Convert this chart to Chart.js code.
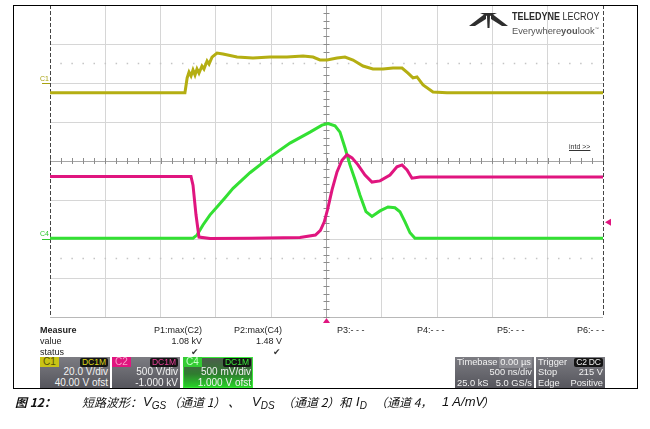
<!DOCTYPE html>
<html>
<head>
<meta charset="utf-8">
<script src="https://cdn.jsdelivr.net/npm/chart.js@4.4.1/dist/chart.umd.min.js"></script>
<style>
body { margin: 0; background: #fff; }
#wrap { position: relative; width: 650px; height: 429px; font-family: "Liberation Sans", Arial, sans-serif; }
#scope { position: absolute; left: 0; top: 0; }
.t { position: absolute; font-size: 9px; line-height: 11px; color: #222; white-space: nowrap; }
.r { text-align: right; }
.chk { font-family: "DejaVu Sans", sans-serif; font-size: 9px; color: #333; }
.box { position: absolute; top: 357px; height: 31px; overflow: hidden; background: linear-gradient(#7c7c82, #55555c); color: #f2f2f2; font-size: 10px; line-height: 10.5px; white-space: nowrap; }
.box.sm { font-size: 9.3px; }
.lab { position: absolute; left: 0; top: 0; padding: 0 3px; height: 10px; line-height: 10px; }
.tag { position: absolute; top: 1px; background: #141414; border-radius: 2px; padding: 0 2px; font-size: 8.5px; line-height: 8.5px; }
.rt { position: absolute; right: 2px; }
.lt { position: absolute; left: 2px; }
.r1 { top: 0; } .r2 { top: 10px; } .r3 { top: 20.5px; }
#cap { position: absolute; left: 0; top: 394px; width: 650px; height: 20px; color: #111; font-style: italic; white-space: nowrap; }
#cap span { position: absolute; top: 0; line-height: 16px; }
#cap .z { font-family: "Noto Sans CJK SC", sans-serif; font-size: 12px; }
#cap .v { font-family: "Liberation Sans", Arial, sans-serif; font-size: 13px; }
#cap sub { font-size: 10px; vertical-align: -3px; line-height: 0; }
#logo1 { position: absolute; left: 512px; top: 11px; font-size: 10px; color: #2a2a2a; transform: scaleX(0.9); transform-origin: left center; }
#logo2 { position: absolute; left: 512px; top: 23px; font-size: 9.3px; color: #555; }
</style>
</head>
<body>
<div id="wrap">
<canvas id="scope" width="650" height="429"></canvas>

<div id="logo1" class="t"><b>TELEDYNE</b> LECROY</div>
<div id="logo2" class="t">Everywhere<b>you</b>look<sup style="font-size:4px">™</sup></div>
<div class="t" style="left:569px;top:141px;font-size:7px;text-decoration:underline;color:#333">intd &gt;&gt;</div>

<div class="t" style="left:40px;top:325px;font-weight:bold">Measure</div>
<div class="t" style="left:40px;top:336px">value</div>
<div class="t" style="left:40px;top:347px">status</div>
<div class="t r" style="left:132px;width:70px;top:325px">P1:max(C2)</div>
<div class="t r" style="left:132px;width:70px;top:336px">1.08 kV</div>
<div class="t chk" style="left:191px;top:347px">✔</div>
<div class="t r" style="left:212px;width:70px;top:325px">P2:max(C4)</div>
<div class="t r" style="left:212px;width:70px;top:336px">1.48 V</div>
<div class="t chk" style="left:273px;top:347px">✔</div>
<div class="t" style="left:337px;top:325px">P3:- - -</div>
<div class="t" style="left:417px;top:325px">P4:- - -</div>
<div class="t" style="left:497px;top:325px">P5:- - -</div>
<div class="t" style="left:577px;top:325px">P6:- - -</div>

<div class="box" style="left:40px;width:70px">
  <span class="lab" style="background:#c9c415;color:#55520a">C1</span>
  <span class="tag" style="right:2px;color:#dcd81a">DC1M</span>
  <span class="rt r2">20.0 V/div</span>
  <span class="rt r3">40.00 V ofst</span>
</div>
<div class="box" style="left:112px;width:68px">
  <span class="lab" style="background:#e0157f;color:#f6a0c8">C2</span>
  <span class="tag" style="right:2px;color:#e8409a">DC1M</span>
  <span class="rt r2">500 V/div</span>
  <span class="rt r3">-1.000 kV</span>
</div>
<div class="box" style="left:183px;width:70px;background:linear-gradient(#4e5a4e, #2f7d2f 55%, #27d827);box-shadow:inset 0 0 0 1px #3be83b">
  <span class="lab" style="background:#33cc33;color:#c8ffc8">C4</span>
  <span class="tag" style="right:2px;color:#3be83b">DC1M</span>
  <span class="rt r2">500 mV/div</span>
  <span class="rt r3">1.000 V ofst</span>
</div>
<div class="box sm" style="left:455px;width:79px">
  <span class="lt r1">Timebase</span>
  <span class="rt r1" style="background:#8a8a90;padding:0 1px">0.00 µs</span>
  <span class="rt r2">500 ns/div</span>
  <span class="lt r3">25.0 kS</span>
  <span class="rt r3">5.0 GS/s</span>
</div>
<div class="box sm" style="left:536px;width:69px">
  <span class="lt r1">Trigger</span>
  <span class="tag" style="right:16px;color:#f0f0f0">C2</span>
  <span class="tag" style="right:2px;color:#f0f0f0">DC</span>
  <span class="lt r2">Stop</span>
  <span class="rt r2">215 V</span>
  <span class="lt r3">Edge</span>
  <span class="rt r3">Positive</span>
</div>

<div id="cap">
  <span class="z" style="left:15px;font-weight:bold">图 12：</span>
  <span class="z" style="left:82px">短路波形：</span>
  <span class="v" style="left:143px">V<sub>GS</sub></span>
  <span class="z" style="left:168px">（通道 1）</span>
  <span class="z" style="left:228px">、</span>
  <span class="v" style="left:252px">V<sub>DS</sub></span>
  <span class="z" style="left:282px">（通道 2）和</span>
  <span class="v" style="left:356px">I<sub>D</sub></span>
  <span class="z" style="left:375px">（通道 4，</span>
  <span class="v" style="left:442px">1 A/mV</span>
  <span class="z" style="left:482px">）</span>
</div>
</div>

<script>
// time in ns, trigger at 0, 500 ns/div
// C1: gate voltage VGS (V)
const c1Time = [-2500, -1280, -1260, -1243, -1225, -1207, -1189, -1171, -1153, -1126, -1108, -1080, -1062, -1035,
  -990, -936, -809, -665, -511, -358, -212, -122, -59, 5, 95, 167, 240, 330, 420, 511, 601, 683, 737, 782, 818, 873, 963, 1089, 2500];
const c1Volts = [-5, -5, 2.6, 5.6, 3.6, 6.7, 4.1, 7.2, 5.1, 8.7, 7.2, 11.3, 9.7, 13.3,
  15.4, 14.9, 13.3, 12.8, 13.3, 13.3, 13.8, 13.3, 11.8, 11.8, 12.8, 13.3, 11.8, 8.7, 7.2, 7.2, 7.7, 7.7, 5.1, 2.6, 3.1, -1.0, -4.6, -5.0, -5.0];

// C2: drain-source voltage VDS (V)
const c2Time = [-2500, -1225, -1207, -1180, -1153, -1053, -692, -240, -100, -55, -20, 10, 50, 95, 140, 185, 231, 285, 348, 411, 484, 574, 637, 683, 728, 773, 845, 2500];
const c2Volts = [800, 800, 690, 310, 25, 5, 10, 20, 50, 110, 220, 380, 630, 860, 1010, 1080, 1040, 950, 820, 730, 745, 820, 925, 950, 885, 780, 795, 795];

// C4: drain current probe (V)
const c4Time = [-2500, -1207, -1171, -1117, -1053, -990, -917, -845, -692, -511, -330, -149, -41, 14, 77, 122, 167, 212, 258, 303, 357, 411, 484, 556, 619, 664, 710, 755, 800, 2500];
const c4Volts = [0.01, 0.01, 0.05, 0.18, 0.31, 0.41, 0.53, 0.65, 0.85, 1.05, 1.23, 1.37, 1.46, 1.48, 1.45, 1.37, 1.17, 0.95, 0.76, 0.56, 0.35, 0.29, 0.36, 0.41, 0.40, 0.35, 0.22, 0.08, 0.01, 0.01];

// scope settings: volts/div and offset (div) per channel
const c1Div = 20, c1Ofst = 2;
const c2Div = 500, c2Ofst = -2;
const c4Div = 0.5, c4Ofst = -2;
const trigLevel = 215;

const pts = (t, v) => t.map((x, i) => ({ x: x, y: v[i] }));
const chRange = (div, ofst) => ({ min: (-4 - ofst) * div, max: (4 - ofst) * div });

const scopeDecor = {
  id: 'scopeDecor',
  beforeDatasetsDraw(chart) {
    const ctx = chart.ctx, a = chart.chartArea;
    const xs = chart.scales.x, ys = chart.scales.y;
    const dx = (a.right - a.left) / 10, dy = (a.bottom - a.top) / 8;
    const cx = xs.getPixelForValue(0), cy = ys.getPixelForValue(0);
    ctx.save();
    // dotted lines at +-2.5 div
    ctx.fillStyle = '#c4c4c4';
    [2.5, -2.5].forEach(d => {
      const y = ys.getPixelForValue(d);
      for (let x = a.left + dx / 5; x < a.right; x += dx / 5) ctx.fillRect(x - 0.75, y - 0.75, 1.5, 1.5);
    });
    // centre axis ticks
    ctx.strokeStyle = '#8c8c8c';
    ctx.lineWidth = 1;
    ctx.beginPath();
    for (let y = a.top; y <= a.bottom + 0.5; y += dy / 5) { ctx.moveTo(cx - 3, Math.round(y) + 0.5); ctx.lineTo(cx + 3, Math.round(y) + 0.5); }
    for (let x = a.left; x <= a.right + 0.5; x += dx / 5) { ctx.moveTo(Math.round(x) + 0.5, cy - 3); ctx.lineTo(Math.round(x) + 0.5, cy + 3); }
    ctx.stroke();
    // dashed screen edges
    ctx.strokeStyle = '#444';
    ctx.setLineDash([4, 2]);
    ctx.beginPath();
    ctx.moveTo(Math.round(a.left) + 0.5, a.top); ctx.lineTo(Math.round(a.left) + 0.5, a.bottom);
    ctx.moveTo(Math.round(a.right) + 0.5, a.top); ctx.lineTo(Math.round(a.right) + 0.5, a.bottom);
    ctx.stroke();
    ctx.restore();
  },
  afterDatasetsDraw(chart) {
    const ctx = chart.ctx, a = chart.chartArea;
    const xs = chart.scales.x;
    ctx.save();
    // ground markers
    ctx.font = '7px "Liberation Sans", Arial';
    ctx.textBaseline = 'middle';
    const y1 = chart.scales.c1.getPixelForValue(0);
    ctx.fillStyle = '#a8a210'; ctx.fillText('C1', 40, y1 - 4);
    ctx.strokeStyle = '#a8a210'; ctx.beginPath(); ctx.moveTo(42, y1 + 0.5); ctx.lineTo(a.left, y1 + 0.5); ctx.stroke();
    const y4 = chart.scales.c4.getPixelForValue(0);
    ctx.fillStyle = '#2ec82e'; ctx.fillText('C4', 40, y4 - 5);
    ctx.strokeStyle = '#2ec82e'; ctx.beginPath(); ctx.moveTo(42, y4 + 0.5); ctx.lineTo(a.left, y4 + 0.5); ctx.stroke();
    // trigger level and position markers
    const yt = chart.scales.c2.getPixelForValue(trigLevel);
    ctx.fillStyle = '#e0157f';
    ctx.beginPath(); ctx.moveTo(a.right + 2, yt); ctx.lineTo(a.right + 8, yt - 3.5); ctx.lineTo(a.right + 8, yt + 3.5); ctx.fill();
    const xt = xs.getPixelForValue(0);
    ctx.beginPath(); ctx.moveTo(xt, a.bottom + 1); ctx.lineTo(xt - 3.5, a.bottom + 6); ctx.lineTo(xt + 3.5, a.bottom + 6); ctx.fill();
    // logo mark
    ctx.fillStyle = '#2e2e2e';
    ctx.beginPath(); ctx.moveTo(469, 26); ctx.lineTo(486, 13); ctx.lineTo(486, 19); ctx.lineTo(475, 26); ctx.fill();
    ctx.beginPath(); ctx.moveTo(508, 26); ctx.lineTo(491, 13); ctx.lineTo(491, 19); ctx.lineTo(502, 26); ctx.fill();
    ctx.beginPath(); ctx.moveTo(480, 13); ctx.lineTo(497, 13); ctx.lineTo(490, 16); ctx.lineTo(489.5, 28); ctx.lineTo(487.5, 28); ctx.lineTo(487, 16); ctx.fill();
    // outer frame
    ctx.strokeStyle = '#000';
    ctx.lineWidth = 1;
    ctx.strokeRect(13.5, 5.5, 624, 383);
    ctx.restore();
  }
};

const gridColor = (edge) => (c) => {
  const v = c.tick.value;
  if (v === 0) return '#a6a6a6';
  if (Math.abs(v) === edge) return 'rgba(0,0,0,0)';
  return '#d6d6d6';
};

const scope = new Chart(document.getElementById('scope').getContext('2d'), {
  type: 'line',
  data: {
    datasets: [
      { label: 'C1', data: pts(c1Time, c1Volts), yAxisID: 'c1', borderColor: '#b4ae12', borderWidth: 3 },
      { label: 'C2', data: pts(c2Time, c2Volts), yAxisID: 'c2', borderColor: '#e0157f', borderWidth: 3 },
      { label: 'C4', data: pts(c4Time, c4Volts), yAxisID: 'c4', borderColor: '#33e033', borderWidth: 3 },
    ],
  },
  options: {
    responsive: false,
    animation: false,
    events: [],
    elements: { point: { radius: 0 }, line: { tension: 0 } },
    layout: { padding: { left: 50, right: 47, top: 5, bottom: 112 } },
    plugins: { legend: { display: false }, tooltip: { enabled: false } },
    scales: {
      x: {
        type: 'linear', min: -2500, max: 2500,
        ticks: { display: false, stepSize: 500 },
        grid: { color: gridColor(2500), drawTicks: false },
        border: { display: false },
      },
      y: {
        type: 'linear', min: -4, max: 4,
        ticks: { display: false, stepSize: 1 },
        grid: { color: (c) => c.tick.value === -4 ? '#b8b8b8' : gridColor(4)(c), drawTicks: false },
        border: { display: false },
      },
      c1: Object.assign({ type: 'linear', display: false }, chRange(c1Div, c1Ofst)),
      c2: Object.assign({ type: 'linear', display: false }, chRange(c2Div, c2Ofst)),
      c4: Object.assign({ type: 'linear', display: false }, chRange(c4Div, c4Ofst)),
    },
  },
  plugins: [scopeDecor],
});
</script>
</body>
</html>
